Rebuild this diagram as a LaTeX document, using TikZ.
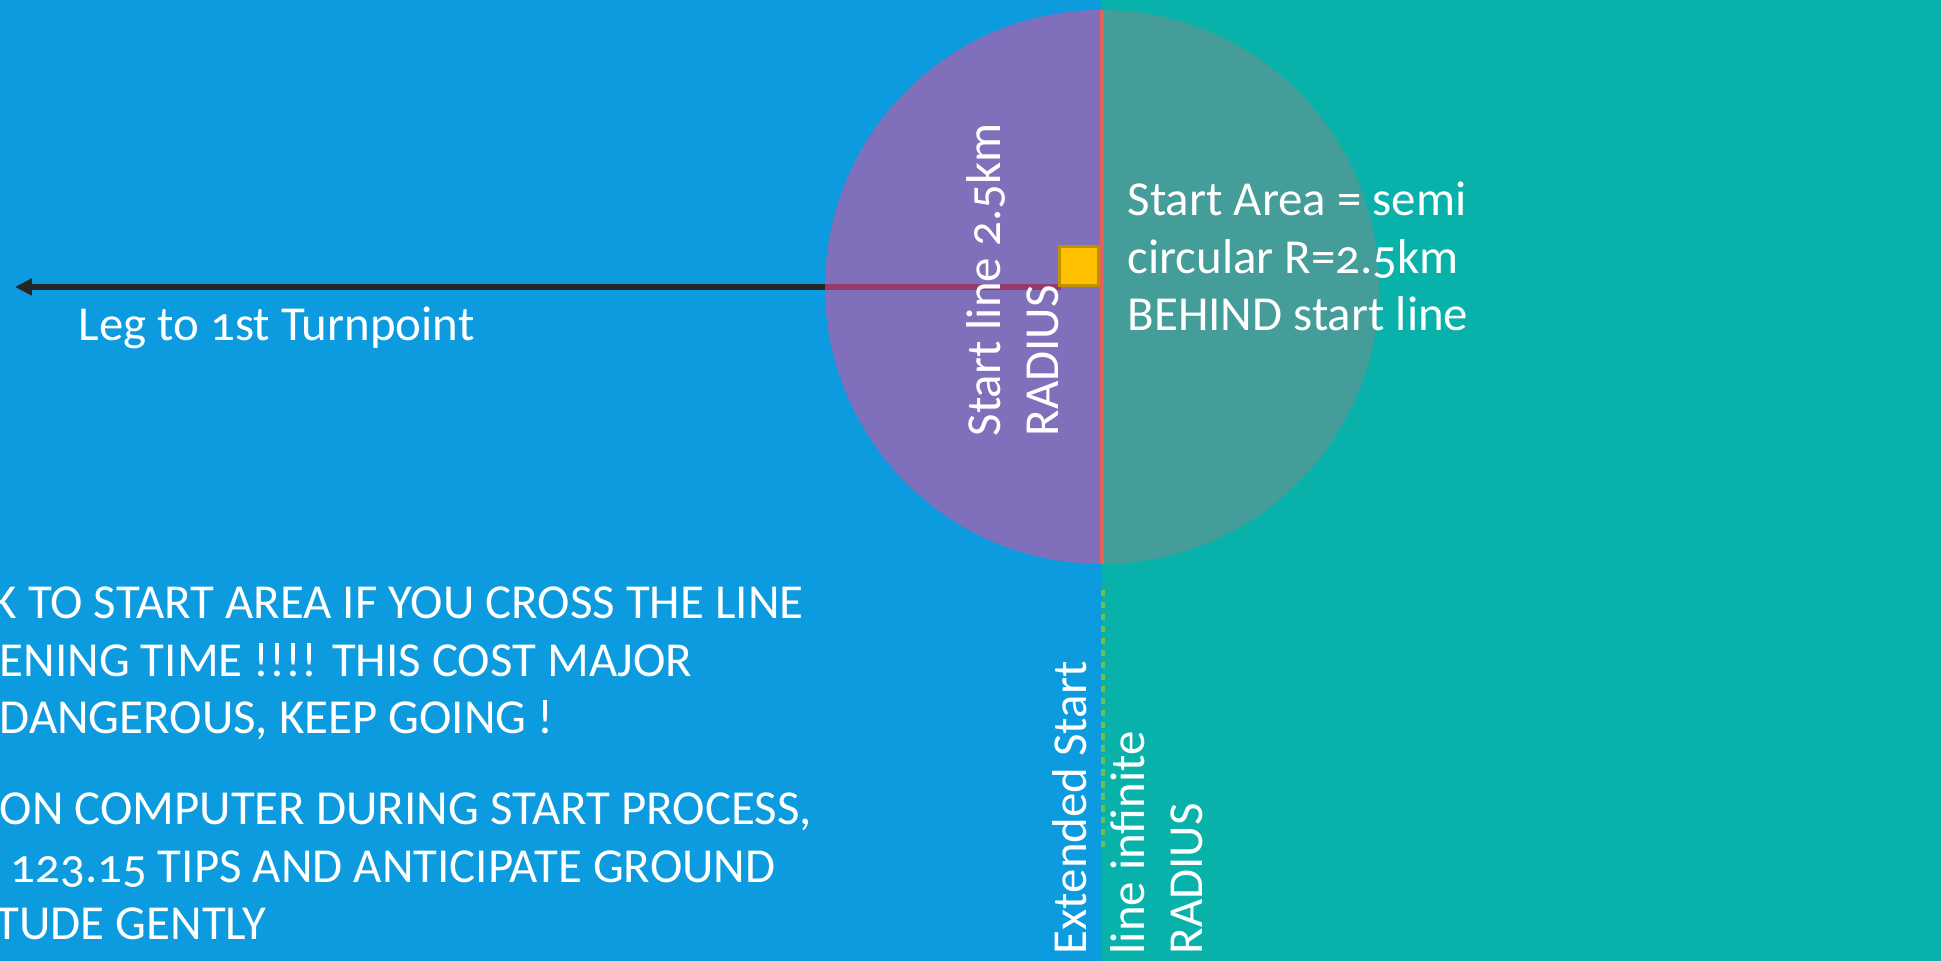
\documentclass[tikz,border=0pt]{standalone}
\usepackage{fontspec}
\setmainfont{Carlito}[Numbers=OldStyle]
\usepackage{xcolor}
\usetikzlibrary{arrows.meta}

\definecolor{skyblue}{HTML}{0B9BDE}
\definecolor{seateal}{HTML}{08B2AA}
\definecolor{areapurple}{HTML}{8070BB}
\definecolor{areagray}{HTML}{459D9A}
\definecolor{linered}{HTML}{E8605A}
\definecolor{flagyellow}{HTML}{FFC000}
\definecolor{flagedge}{HTML}{BF9000}
\definecolor{leggrey}{HTML}{262626}
\definecolor{legmaroon}{HTML}{963A6C}
\definecolor{extgreen}{HTML}{6DBE4B}

\tikzset{
  txt/.style={text=white, inner sep=0pt, font=\fontsize{13.9pt}{16.4pt}\selectfont},
  vtxt/.style={txt, rotate=90, align=left, anchor=base west},
  legline/.style={leggrey, line width=1.6pt, -{Triangle[length=4.8pt,width=4.6pt]}},
  flag/.style={fill=flagyellow, draw=flagedge, line width=0.8pt, minimum size=0.39cm, inner sep=0pt},
  startline/.style={linered, line width=1.2pt},
  extline/.style={extgreen, line width=0.9pt, dash pattern=on 1.8pt off 1.6pt}
}

\begin{document}
\begin{tikzpicture}[x=0.01cm, y=0.01cm]
  \useasboundingbox (0,0) rectangle (1941,961);
  \fill[skyblue] (0,0) rectangle (1102,961);
  \fill[seateal] (1102,0) rectangle (1941,961);

  \coordinate (top) at (1102,951);
  \coordinate (bot) at (1102,397);
  \coordinate (west) at (825,674);
  \coordinate (tip) at (15,674);
  \coordinate (flagsw) at (1061,674);
  \coordinate (dashtop) at (1103,371);
  \coordinate (dashbot) at (1103,114);

  \draw[legline] (west) -- (tip);
  \fill[areapurple] (top) arc[start angle=90, end angle=270, radius=277] -- cycle;
  \fill[areagray] (top) arc[start angle=90, end angle=-90, radius=277] -- cycle;
  \draw[legmaroon, line width=1.8pt] (flagsw) -- (west);
  \draw[startline] (top) -- (bot);
  \node[flag, anchor=south east] (flag) at (1100,674) {};
  \draw[extline] (dashtop) -- (dashbot);

  \node[vtxt] (radius) at (1058,524) {Start line 2.5km\\RADIUS};
  \node[vtxt] (extended) at (1202,6) {Extended Start\\line infinite\\RADIUS};
  \node[txt, align=left, anchor=base west] (area) at (1127,630) {Start Area = semi\\circular R=2.5km\\BEHIND start line};
  \node[txt, anchor=base west] (leg) at (78,620) {Leg to 1st Turnpoint};

  \node[txt, anchor=base west] (warn1) at (-9,342) {K TO START AREA IF YOU CROSS THE LINE};
  \node[txt, anchor=base west] (warn2) at (-1,284) {ENING TIME !!!! THIS COST MAJOR};
  \node[txt, anchor=base west] (warn3) at (-1,227) {DANGEROUS, KEEP GOING !};
  \node[txt, anchor=base west] (tip1) at (-1,136) {ON COMPUTER DURING START PROCESS,};
  \node[txt, anchor=base west] (tip2) at (10,78) {123.15 TIPS AND ANTICIPATE GROUND};
  \node[txt, anchor=base west] (tip3) at (-5,21) {TUDE GENTLY};
\end{tikzpicture}
\end{document}
